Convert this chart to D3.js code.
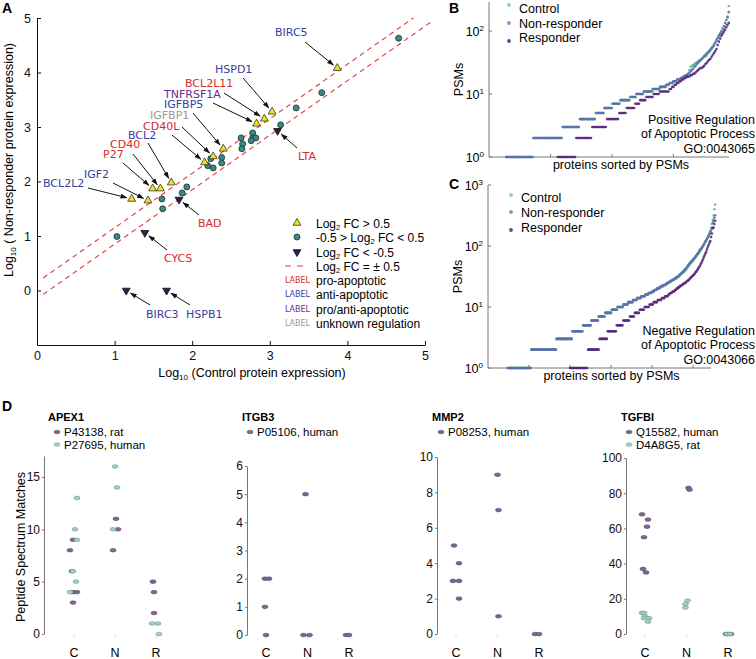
<!DOCTYPE html>
<html><head><meta charset="utf-8">
<script src="https://cdn.jsdelivr.net/npm/d3@7"></script>
<style>
body{margin:0;background:#fff;}
svg{display:block;font-family:"Liberation Sans",Arial,Helvetica,sans-serif;}
</style></head><body>
<svg id="chart" width="756" height="659"></svg>
<script>
// ================= DATA =================
// Panel A: labelled genes (log10 PSM expression)
const geneNames   = ["BIRC5","HSPD1","BCL2L11","TNFRSF1A","IGFBP5","IGFBP1","CD40L","BCL2","CD40","P27","IGF2","BCL2L2","LTA","BAD","CYCS","BIRC3","HSPB1"];
const geneControl = [3.87,3.03,2.93,2.83,2.40,2.27,2.16,1.73,1.59,1.49,1.43,1.22,3.10,1.83,1.39,1.15,1.67];
const geneNonResp = [4.08,3.28,3.15,3.06,2.60,2.46,2.35,1.98,1.87,1.87,1.65,1.68,2.93,1.67,1.06,0.00,0.00];
const geneChange  = ["up","up","up","up","up","up","up","up","up","up","up","up","down","down","down","down","down"];
const geneRole    = ["anti","anti","pro","both","anti","unknown","pro","anti","pro","pro","anti","anti","pro","pro","pro","anti","anti"];
// Panel A: unlabelled, unchanged proteins
const otherControl = [1.03,1.61,1.62,1.87,1.93,2.20,2.27,2.24,2.38,2.38,2.63,2.65,2.64,2.78,2.78,2.82,2.76,3.14,3.34,3.67,4.66];
const otherNonResp = [0.99,1.68,1.50,1.79,1.90,2.29,2.25,2.42,2.44,2.34,2.80,2.69,2.60,2.89,2.80,2.80,2.75,3.04,3.35,3.63,4.63];
const axisTicksA = [0,1,2,3,4,5];
const foldThresholdLog2 = 0.5;

// Panel B (GO:0043065) - PSMs per protein, sorted; run-lengths [PSM, count] then tail values
const bControlStart = 14;
const bControlRuns  = [[1,23],[2,23],[3,14],[4,13],[5,7],[6,6],[7,7],[8,8],[9,5],[10,6],[11,8],[12,6],[13,5]];
const bControlTail  = [14,14,15,15,15,16,16,16,17,17,17,18,18,18,19,19,19,21,24,27,28,29,30,31,32,33,34,35,36,37,39,40,41,44,46,49,52,55,58,64,70,77,84,88,92,95,105,115,128,170,250];
const bNonRespStart = 14;
const bNonRespRuns  = [[1,22],[2,24],[3,14],[4,13],[5,7],[6,7],[7,6],[8,8],[9,5],[10,6],[11,7],[12,6],[13,5]];
const bNonRespTail  = [14,14,14,15,15,15,16,16,16,17,17,17,18,18,19,19,20,20,21,22,23,24,25,27,28,30,31,33,34,36,38,40,42,44,46,48,51,54,57,61,66,72,78,85,92,100,110,120,135,150,165,200];
const bRespStart    = 56;
const bRespRuns     = [[1,15],[2,13],[3,12],[4,10],[5,6],[6,7],[7,4],[8,5],[9,6],[10,5],[11,8]];
const bRespTail     = [12,12,13,13,14,14,15,15,16,16,17,17,18,18,19,19,19,20,20,21,21,22,23,24,25,26,26,27,28,30,31,33,35,36,39,42,45,48,52,60,68,76,84,90,98,105,115,125,135];

// Panel C (GO:0043066)
const cControlStart = 25;
const cControlRuns  = [[1,28],[2,30],[3,20],[4,13],[5,10],[6,9],[7,8],[8,8],[9,7],[10,7],[11,6],[12,6],[13,5],[14,5],[15,5],[16,4],[17,4],[18,3],[19,3],[20,3]];
const cControlTail  = [21,21,21,22,22,22,23,23,23,24,24,25,25,26,26,27,27,28,28,29,29,30,31,31,32,33,34,35,36,37,38,39,40,42,44,46,48,50,52,54,56,58,60,63,66,68,71,74,77,80,84,88,93,98,104,110,116,122,130,140,150,162,175,195,230,270,314,400,480];
const cNonRespStart = 24;
const cNonRespRuns  = [[1,29],[2,31],[3,19],[4,13],[5,10],[6,9],[7,8],[8,8],[9,7],[10,7],[11,6],[12,6],[13,5],[14,5],[15,5],[16,4],[17,4],[18,3],[19,3],[20,3]];
const cNonRespTail  = [21,21,22,22,22,23,23,23,24,24,25,25,26,26,27,27,28,28,29,29,30,31,31,32,33,34,35,36,37,38,40,41,42,44,46,48,50,52,54,56,58,60,62,64,67,70,73,76,80,84,88,92,96,100,106,112,118,124,130,138,146,155,165,180,200,240,260,290,320];
const cRespStart    = 100;
const cRespRuns     = [[1,22],[2,14],[3,10],[4,11],[5,8],[6,8],[7,6],[8,6],[9,6],[10,6],[11,5],[12,5],[13,5],[14,4],[15,4]];
const cRespTail     = [16,16,17,17,17,18,18,18,19,19,20,20,21,21,22,22,23,23,24,24,25,25,26,27,27,28,29,30,31,32,33,34,35,37,38,40,42,44,46,49,52,56,60,65,70,75,80,88,96,104,112,120,140,160,195,200,230,260];
const seriesNames = ["Control","Non-responder","Responder"];

// Panel D: peptide spectrum matches per sample
const groups = ["C","N","R"];
const apexRatGroup   = ["C","C","C","C","C","C","N","N","N","R","R","R"];
const apexRatPSM     = [9,8,6,4,4,3,11,10,8,5,4,2];
const apexHumanGroup = ["C","C","C","C","C","C","N","N","N","R","R","R"];
const apexHumanPSM   = [13,10,9,6,5,4,16,14,10,1,1,0];
const itgbGroup = ["C","C","C","C","N","N","N","R","R"];
const itgbPSM   = [1,2,2,0,5,0,0,0,0];
const mmpGroup  = ["C","C","C","C","C","N","N","N","R","R"];
const mmpPSM    = [5,4,3,3,2,9,7,1,0,0];
const tgfHumanGroup = ["C","C","C","C","C","C","N","N","R","R","R"];
const tgfHumanPSM   = [68,65,61,55,37,35,83,82,0,0,0];
const tgfRatGroup   = ["C","C","C","C","C","C","N","N","N","R","R"];
const tgfRatPSM     = [12,12,10,9,9,7,19,17,15,0,0];

// ================= LAYOUT / STYLE =================
const svg = d3.select("#chart");
const LAB = '"DejaVu Sans", Verdana, sans-serif';
const roleColor = {pro:"#d42b2b", anti:"#3c3c9f", both:"#6a2c8c", unknown:"#9a9a9a"};
const defs = svg.append("defs");
defs.append("marker").attr("id","arr").attr("viewBox","0 0 10 10").attr("refX",9).attr("refY",5)
  .attr("markerWidth",7).attr("markerHeight",7).attr("orient","auto")
  .append("path").attr("d","M0,1.5L10,5L0,8.5z").attr("fill","#111");

function panelLetter(t,x,y){svg.append("text").attr("x",x).attr("y",y).attr("font-weight","bold").attr("font-size",14).text(t);}

// ---------- Panel A ----------
panelLetter("A",2,13);
const xA = d3.scaleLinear().domain([0,5]).range([37,425]);
const yA = d3.scaleLinear().domain([-1,5]).range([345,18]);
const gA = svg.append("g");
const off = foldThresholdLog2*Math.log10(2);
const lineA = d3.line().x(d=>xA(d[0])).y(d=>yA(d[1]));
[[+off,0.08,5-off],[-off,0.08,5.07]].forEach(([o,x0,x1])=>{
  gA.append("path").attr("d",lineA([[x0,x0+o],[x1,x1+o]])).attr("stroke","#e03a3a").attr("stroke-width",1.1)
    .attr("stroke-dasharray","5,4").attr("fill","none");
});
const axA_x = gA.append("g").attr("transform","translate(0,345)")
  .call(d3.axisBottom(xA).tickValues(axisTicksA).tickSizeInner(-4).tickSizeOuter(0).tickPadding(6).tickFormat(d3.format("d")));
const axA_y = gA.append("g").attr("transform","translate(37,0)")
  .call(d3.axisLeft(yA).tickValues(axisTicksA).tickSizeInner(-4).tickSizeOuter(0).tickPadding(6).tickFormat(d3.format("d")));
[axA_x,axA_y].forEach(a=>{a.selectAll("text").attr("font-size",12.5).attr("font-family",null).attr("fill","#111");
  a.select(".domain").attr("stroke","#111"); a.selectAll(".tick line").attr("stroke","#111");});
// axis titles
const xt = gA.append("text").attr("x",252).attr("y",377).attr("text-anchor","middle").attr("font-size",12.5);
xt.append("tspan").text("Log"); xt.append("tspan").attr("font-size",8).attr("dy",3).text("10");
xt.append("tspan").attr("dy",-3).text(" (Control protein expression)");
const yt = gA.append("text").attr("transform","translate(13,160) rotate(-90)").attr("text-anchor","middle").attr("font-size",12.5);
yt.append("tspan").text("Log"); yt.append("tspan").attr("font-size",8).attr("dy",3).text("10");
yt.append("tspan").attr("dy",-3).text(" ( Non-responder protein expression)");

// points
const tri = d3.symbol().type(d3.symbolTriangle).size(27);
gA.selectAll("circle.other").data(otherControl.map((c,i)=>[c,otherNonResp[i]])).join("circle")
  .attr("cx",d=>xA(d[0])).attr("cy",d=>yA(d[1])).attr("r",3)
  .attr("fill","#3e8783").attr("stroke","#173434").attr("stroke-width",0.8);
const geneData = geneNames.map((n,i)=>({n,c:geneControl[i],r:geneNonResp[i],ch:geneChange[i],role:geneRole[i]}));
gA.selectAll("path.gene").data(geneData).join("path")
  .attr("d",tri).attr("transform",d=>`translate(${xA(d.c)},${yA(d.r)})${d.ch==="down"?" rotate(180)":""}`)
  .attr("fill",d=>d.ch==="up"?"#f2e21a":"#2c1f4e").attr("stroke",d=>d.ch==="up"?"#333":"#111").attr("stroke-width",0.8);

// labels and arrows
const labelLayout = {
 BIRC5:[275,36,305,42], HSPD1:[215,73,243,78], BCL2L11:[185,87,224,93], TNFRSF1A:[164,98,213,103],
 IGFBP5:[164,108,193,113], IGFBP1:[150,119,182,127], CD40L:[143,130,172,135], BCL2:[128,139,148,143],
 CD40:[110,148,133,154], P27:[103,158,123,163], IGF2:[84,178,113,183], BCL2L2:[43,187,88,188],
 LTA:[298,160,297,148], BAD:[198,227,199,215], CYCS:[164,262,167,250], BIRC3:[146,318,150,305], HSPB1:[186,318,190,305]
};
geneData.forEach(d=>{
  const L = labelLayout[d.n];
  const px = xA(d.c), py = yA(d.r);
  const dx = px-L[2], dy = py-L[3], len = Math.hypot(dx,dy), s = (len-5)/len;
  gA.append("line").attr("x1",L[2]).attr("y1",L[3]).attr("x2",L[2]+dx*s).attr("y2",L[3]+dy*s)
    .attr("stroke","#111").attr("stroke-width",1).attr("marker-end","url(#arr)");
  gA.append("text").attr("x",L[0]).attr("y",L[1]).attr("font-family",LAB).attr("font-size",11)
    .attr("fill",roleColor[d.role]).text(d.n);
});

// legend A
const legA = gA.append("g");
const legRows = [223,237,252,266,280,294,309,323];
legA.append("path").attr("d",tri).attr("transform",`translate(297,${legRows[0]})`).attr("fill","#f2e21a").attr("stroke","#333").attr("stroke-width",0.8);
legA.append("circle").attr("cx",297).attr("cy",legRows[1]).attr("r",3).attr("fill","#3e8783").attr("stroke","#173434").attr("stroke-width",0.8);
legA.append("path").attr("d",tri).attr("transform",`translate(297,${legRows[2]}) rotate(180)`).attr("fill","#2c1f4e").attr("stroke","#111").attr("stroke-width",0.8);
legA.append("line").attr("x1",285).attr("x2",309).attr("y1",legRows[3]).attr("y2",legRows[3]).attr("stroke","#e03a3a").attr("stroke-width",1.1).attr("stroke-dasharray","6,6");
function legText(y, parts){
  const t = legA.append("text").attr("x",316).attr("y",y+4.5).attr("font-size",12);
  parts.forEach(p=>{ if(p.sub){t.append("tspan").attr("font-size",7.5).attr("dy",2.5).text(p.sub);} else {t.append("tspan").attr("dy",p.after?-2.5:null).text(p.t);} });
}
legText(legRows[0],[{t:"Log"},{sub:"2"},{t:" FC > 0.5",after:true}]);
legText(legRows[1],[{t:"-0.5 > Log"},{sub:"2"},{t:" FC < 0.5",after:true}]);
legText(legRows[2],[{t:"Log"},{sub:"2"},{t:" FC < -0.5",after:true}]);
legText(legRows[3],[{t:"Log"},{sub:"2"},{t:" FC = ± 0.5",after:true}]);
[["pro","pro-apoptotic"],["anti","anti-apoptotic"],["both","pro/anti-apoptotic"],["unknown","unknown regulation"]].forEach((r,i)=>{
  const y = legRows[4+i];
  legA.append("text").attr("x",310).attr("y",y+3).attr("text-anchor","end").attr("font-family",LAB).attr("font-size",8).attr("fill",roleColor[r[0]]).text("LABEL");
  legA.append("text").attr("x",316).attr("y",y+4.5).attr("font-size",12).text(r[1]);
});

// ---------- Panels B & C ----------
const seriesColor = ["#5cbd96","#5b70aa","#57287c"];
const legendColor = ["#86d3b0","#8494c6","#6a3d8c"];
function expand(start, runs, tail){
  const out=[]; let i=start;
  runs.forEach(([v,c])=>{ for(let k=0;k<c;k++) out.push([i++,v]); });
  tail.forEach(v=>out.push([i++,v]));
  return out;
}
function rankPanel(cfg){
  const g = svg.append("g");
  const x = d3.scaleLinear().domain([0,cfg.n]).range([cfg.x0,cfg.x1]);
  const y = d3.scaleLog().domain([1,cfg.ymax]).range([cfg.yb,cfg.yt]);
  g.append("line").attr("x1",cfg.x0).attr("x2",cfg.x0).attr("y1",cfg.yb).attr("y2",cfg.yt).attr("stroke","#777");
  g.append("line").attr("x1",cfg.x0).attr("x2",cfg.xend).attr("y1",cfg.yb).attr("y2",cfg.yb).attr("stroke","#777");
  cfg.xticks.forEach(t=>g.append("line").attr("x1",x(t)).attr("x2",x(t)).attr("y1",cfg.yb).attr("y2",cfg.yb-3).attr("stroke","#777"));
  cfg.decades.forEach(e=>{
    const yy = y(Math.pow(10,e));
    g.append("line").attr("x1",cfg.x0).attr("x2",cfg.x0+3).attr("y1",yy).attr("y2",yy).attr("stroke","#777");
    const t = g.append("text").attr("x",cfg.x0-5).attr("y",yy+4.5).attr("text-anchor","end").attr("font-size",12.5);
    t.append("tspan").text("10"); t.append("tspan").attr("font-size",8).attr("dy",-5).text(String(e));
  });
  g.append("text").attr("transform",`translate(${cfg.x0-26},${(cfg.yb+cfg.yt)/2}) rotate(-90)`).attr("text-anchor","middle").attr("font-size",12.5).text("PSMs");
  g.append("text").attr("x",(cfg.x0+cfg.xend)/2+12).attr("y",cfg.yb+12).attr("text-anchor","middle").attr("font-size",12.5).text("proteins sorted by PSMs");
  cfg.series.forEach((s,si)=>{
    g.append("g").selectAll("circle").data(s).join("circle")
      .attr("cx",d=>x(d[0])).attr("cy",d=>y(d[1])).attr("r",1.3).attr("fill",seriesColor[si]).attr("fill-opacity",0.9);
  });
  seriesNames.forEach((n,i)=>{
    g.append("circle").attr("cx",cfg.legX).attr("cy",cfg.legMarkY[i]).attr("r",1.9).attr("fill",legendColor[i]);
    g.append("text").attr("x",cfg.legX+10).attr("y",cfg.legTextY[i]+4.5).attr("font-size",12.5).text(n);
  });
  cfg.note.forEach((line,i)=>g.append("text").attr("x",755).attr("y",cfg.noteY+4.5+i*14.5).attr("text-anchor","end").attr("font-size",12.5).text(line));
}
panelLetter("B",449,13);
rankPanel({x0:489,x1:730,xend:729,n:196,yb:157,yt:2,ymax:290,xticks:[50,100,150],decades:[0,1,2],
  series:[expand(bControlStart,bControlRuns,bControlTail),expand(bNonRespStart,bNonRespRuns,bNonRespTail),expand(bRespStart,bRespRuns,bRespTail)],
  legX:509,legMarkY:[5,23,41],legTextY:[8,23,37],note:["Positive Regulation","of Apoptotic Process","GO:0043065"],noteY:119});
panelLetter("C",449,189);
rankPanel({x0:488,x1:716,xend:711,n:278,yb:368,yt:185,ymax:1000,xticks:[50,100,150,200,250],decades:[0,1,2,3],
  series:[expand(cControlStart,cControlRuns,cControlTail),expand(cNonRespStart,cNonRespRuns,cNonRespTail),expand(cRespStart,cRespRuns,cRespTail)],
  legX:511,legMarkY:[195,212,230],legTextY:[197,212,227],note:["Negative Regulation","of Apoptotic Process","GO:0043066"],noteY:330});

// ---------- Panel D ----------
panelLetter("D",2,411);
svg.append("text").attr("transform","translate(25,547) rotate(-90)").attr("text-anchor","middle").attr("font-size",12.5).text("Peptide Spectrum Matches");
const ratCol = {fill:"#7d6892", stroke:"#5a4670"}, tealCol = {fill:"#a3cec4", stroke:"#6e9c96"};
function strip(cfg){
  const g = svg.append("g");
  const y = d3.scaleLinear().domain([0,cfg.ymax]).range([cfg.y0,cfg.ytop]);
  const x = d3.scalePoint().domain(groups).range(cfg.xr);
  const ax = g.append("g").attr("transform",`translate(${cfg.ax},0)`)
    .call(d3.axisLeft(y).tickValues(cfg.ticks).tickSizeInner(2).tickSizeOuter(0).tickPadding(2).tickFormat(d3.format("d")));
  ax.select(".domain").attr("stroke","#777");
  ax.selectAll(".tick line").attr("stroke","#777");
  ax.selectAll("text").attr("font-size",12).attr("font-family",null).attr("fill","#111");
  groups.forEach(k=>{
    g.append("line").attr("x1",x(k)).attr("x2",x(k)).attr("y1",cfg.y0+1).attr("y2",cfg.y0+4).attr("stroke","#ddd");
    g.append("text").attr("x",x(k)).attr("y",657).attr("text-anchor","middle").attr("font-size",12.5).text(k);
  });
  g.append("text").attr("x",cfg.tx).attr("y",421).attr("font-weight","bold").attr("font-size",11).text(cfg.title);
  cfg.series.forEach((s,si)=>{
    g.append("ellipse").attr("cx",cfg.lx).attr("cy",432+si*12.5).attr("rx",3).attr("ry",1.8).attr("fill",s.col.fill).attr("stroke",s.col.stroke).attr("stroke-width",0.5);
    g.append("text").attr("x",cfg.lx+7).attr("y",436+si*12.5).attr("font-size",11.5).text(s.label);
    g.selectAll(null).data(s.vals.map((v,i)=>({v,grp:s.grp[i],j:s.jit[i]}))).join("ellipse")
      .attr("cx",d=>x(d.grp)+d.j).attr("cy",d=>y(d.v)).attr("rx",3).attr("ry",1.8)
      .attr("fill",s.col.fill).attr("stroke",s.col.stroke).attr("stroke-width",0.6);
  });
}
strip({title:"APEX1",tx:48,lx:57,ax:44,y0:634,ytop:456,ymax:17,ticks:[0,5,10,15],xr:[74,156],
  series:[{label:"P43138, rat",col:ratCol,vals:apexRatPSM,grp:apexRatGroup,jit:[-1,-4,-2,-1,3,-1,1,3,-2,-3,-2,-2]},
          {label:"P27695, human",col:tealCol,vals:apexHumanPSM,grp:apexHumanGroup,jit:[3,1,3,-1,2,-4,0,2,-2,-4,2,3]}]});
strip({title:"ITGB3",tx:242,lx:250,ax:247,y0:635,ytop:466,ymax:6,ticks:[0,1,2,3,4,5,6],xr:[266,349],
  series:[{label:"P05106, human",col:ratCol,vals:itgbPSM,grp:itgbGroup,jit:[-1,-1,3,0,-2,-4,2,-3,0]}]});
strip({title:"MMP2",tx:432,lx:441,ax:437,y0:634,ytop:457,ymax:10,ticks:[0,2,4,6,8,10],xr:[456,539],
  series:[{label:"P08253, human",col:ratCol,vals:mmpPSM,grp:mmpGroup,jit:[-2,3,-3,3,3,0,1,1,-4,0]}]});
strip({title:"TGFBI",tx:621,lx:629,ax:626,y0:634,ytop:458,ymax:100,ticks:[0,20,40,60,80,100],xr:[645,728],
  series:[{label:"Q15582, human",col:ratCol,vals:tgfHumanPSM,grp:tgfHumanGroup,jit:[-3,3,2,-1,-2,1,2,3,-2,0,3]},
          {label:"D4A8G5, rat",col:tealCol,vals:tgfRatPSM,grp:tgfRatGroup,jit:[-3,-1,0,-1,4,3,1,-1,-1,-1,2]}]});
</script>
</body></html>
